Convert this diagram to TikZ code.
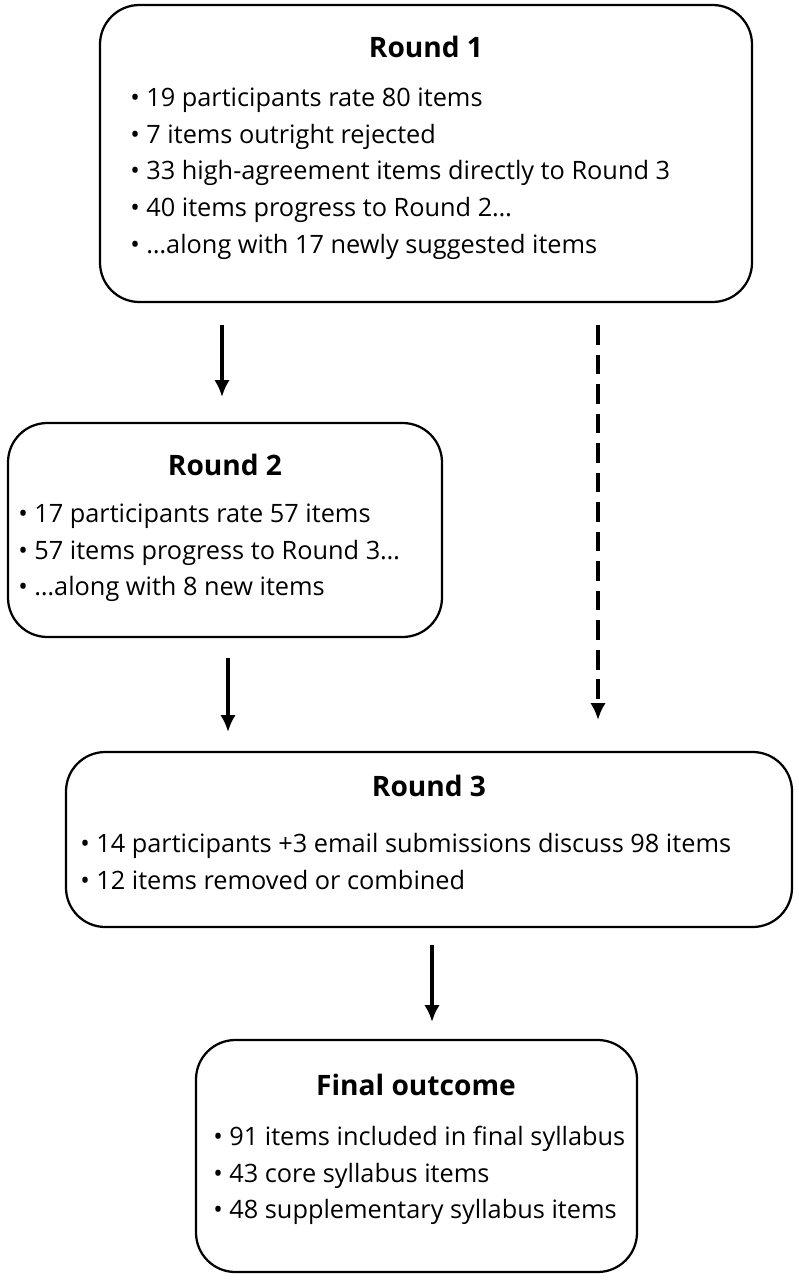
\documentclass[tikz,border=0pt]{standalone}
\usepackage{fontspec}
\setmainfont{Open Sans}
\usetikzlibrary{positioning,arrows.meta}
\begin{document}
\begin{tikzpicture}[x=0.025cm,y=-0.025cm,
    roundbox/.style={draw,line width=1.6pt,rounded corners=28pt},
    title/.style={font=\fontsize{20}{24}\selectfont\bfseries},
    items/.style={anchor=north west,align=left,inner sep=0pt,font=\fontsize{18}{26}\selectfont},
    flow/.style={-{Latex[length=12pt,width=11pt]},line width=2.6pt}]
\useasboundingbox (0,0) rectangle (798,1280);

% Round 1
\draw[roundbox] (100,5) rectangle (752,302);
\node[title] (t1) at (426,47) {Round 1};
\node[items] (b1) at (130,88) {• 19 participants rate 80 items\\
• 7 items outright rejected\\
• 33 high-agreement items directly to Round 3\\
• 40 items progress to Round 2…\\
• …along with 17 newly suggested items};

% Round 2
\draw[roundbox] (8,423) rectangle (442,637);
\node[title] (t2) at (225,465) {Round 2};
\node[items] (b2) at (18,504) {• 17 participants rate 57 items\\
• 57 items progress to Round 3…\\
• …along with 8 new items};

% Round 3
\draw[roundbox] (66,752) rectangle (792,927);
\node[title] (t3) at (429,786) {Round 3};
\node[items] (b3) at (80,833) {• 14 participants +3 email submissions discuss 98 items\\
• 12 items removed or combined};

% Final outcome
\draw[roundbox] (196,1040) rectangle (637,1272);
\node[title] (t4) at (416,1085) {Final outcome};
\node[items] (b4) at (213,1126) {• 91 items included in final syllabus\\
• 43 core syllabus items\\
• 48 supplementary syllabus items};

% Arrows
\coordinate (a1) at (222,325); \coordinate (a2) at (222,397);
\coordinate (c1) at (228,658); \coordinate (c2) at (228,732);
\coordinate (d1) at (598,325); \coordinate (d2) at (598,720);
\coordinate (e1) at (432,945); \coordinate (e2) at (432,1022);
\draw[flow] (a1) -- (a2);
\draw[flow] (c1) -- (c2);
\draw[flow,dash pattern=on 14pt off 7pt] (d1) -- (d2);
\draw[flow] (e1) -- (e2);
\end{tikzpicture}
\end{document}
